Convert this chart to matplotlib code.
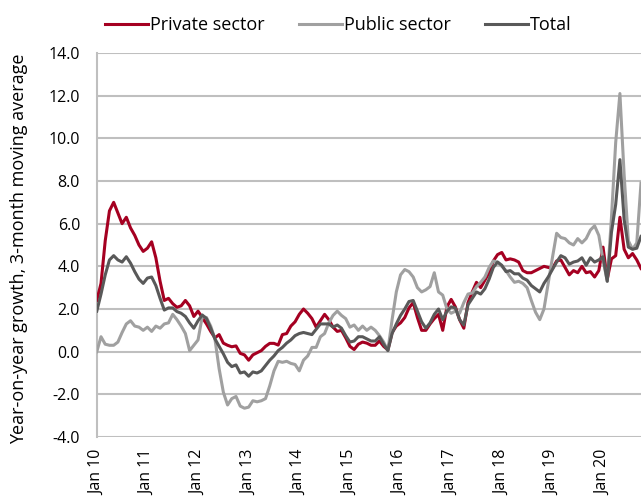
# Year-on-year wage growth, private vs public sector, 3-month moving average

import numpy as np
import matplotlib
matplotlib.use('Agg')
import matplotlib.pyplot as plt

plt.rcParams['font.family'] = ['Open Sans', 'DejaVu Sans']
plt.rcParams['axes.unicode_minus'] = False

# monthly values, Jan 2010 .. Oct 2020
private = [2.4, 3.2, 5.2, 6.6, 7.0, 6.5, 6.0, 6.3, 5.8, 5.45, 5.0, 4.7,
           4.85, 5.15, 4.4, 3.3, 2.4, 2.5, 2.25, 2.08, 2.15, 2.4, 2.15, 1.65,
           1.9, 1.6, 1.3, 0.95, 0.65, 0.8, 0.4, 0.3, 0.23, 0.27, -0.08, -0.15,
           -0.4, -0.15, -0.05, 0.05, 0.25, 0.39, 0.39, 0.31, 0.8, 0.85, 1.2, 1.4,
           1.75, 2.0, 1.8, 1.55, 1.15, 1.45, 1.75, 1.5, 1.15, 0.95, 1.0, 0.65,
           0.25, 0.1, 0.35, 0.45, 0.4, 0.3, 0.3, 0.5, 0.25, 0.08, 0.9, 1.2,
           1.35, 1.6, 2.05, 2.3, 1.6, 1.0, 1.0, 1.3, 1.55, 1.75, 1.0, 2.1,
           2.45, 2.1, 1.5, 1.1, 2.3, 2.8, 3.25, 3.0, 3.35, 3.7, 4.25, 4.55,
           4.65, 4.3, 4.35, 4.3, 4.2, 3.8, 3.7, 3.7, 3.8, 3.9, 4.0, 3.95,
           3.9, 4.25, 4.3, 3.95, 3.6, 3.8, 3.7, 4.0, 3.7, 3.75, 3.5, 3.8,
           4.9, 3.4, 4.35, 4.5, 6.3, 4.8, 4.4, 4.6, 4.3, 3.9]

public = [0.0, 0.7, 0.35, 0.3, 0.3, 0.45, 0.9, 1.3, 1.45, 1.2, 1.15, 1.0,
          1.15, 0.95, 1.2, 1.1, 1.3, 1.35, 1.75, 1.5, 1.2, 0.85, 0.05, 0.3,
          0.55, 1.65, 1.6, 1.2, 0.6, -0.8, -1.9, -2.5, -2.2, -2.1, -2.55, -2.65,
          -2.6, -2.3, -2.35, -2.3, -2.2, -1.6, -0.9, -0.45, -0.5, -0.45, -0.55, -0.6,
          -0.9, -0.4, -0.2, 0.2, 0.2, 0.7, 0.85, 1.35, 1.7, 1.9, 1.7, 1.55,
          1.15, 1.25, 1.0, 1.2, 1.0, 1.15, 1.0, 0.75, 0.45, 0.05, 1.5, 2.8,
          3.6, 3.85, 3.75, 3.5, 3.0, 2.8, 2.9, 3.05, 3.7, 2.8, 2.65, 2.0,
          1.8, 1.9, 1.8, 2.3, 2.7, 2.75, 3.05, 3.25, 3.5, 3.95, 4.25, 4.2,
          4.0, 3.8, 3.5, 3.25, 3.3, 3.2, 3.0, 2.4, 1.85, 1.5, 2.0, 3.2,
          4.4, 5.55, 5.35, 5.3, 5.1, 5.0, 5.3, 5.1, 5.3, 5.7, 5.9, 5.45,
          4.3, 3.3, 6.3, 9.8, 12.1, 8.3, 5.2, 4.8, 5.1, 7.9]

total = [1.9, 2.7, 3.6, 4.3, 4.5, 4.3, 4.2, 4.45, 4.15, 3.75, 3.4, 3.2,
         3.45, 3.5, 3.1, 2.5, 1.95, 2.05, 2.05, 1.88, 1.8, 1.65, 1.35, 1.1,
         1.45, 1.72, 1.55, 1.1, 0.6, 0.25, -0.1, -0.5, -0.7, -0.62, -1.0, -0.95,
         -1.15, -0.95, -1.0, -0.9, -0.65, -0.4, -0.2, 0.05, 0.2, 0.4, 0.55, 0.75,
         0.85, 0.9, 0.85, 0.8, 1.05, 1.3, 1.3, 1.3, 1.15, 1.25, 1.1, 0.75,
         0.45, 0.5, 0.7, 0.7, 0.6, 0.5, 0.5, 0.7, 0.35, 0.05, 0.85, 1.3,
         1.7, 2.0, 2.35, 2.4, 1.9, 1.4, 1.1, 1.35, 1.75, 2.0, 1.5, 1.9,
         2.1, 2.05, 1.5, 1.25, 2.2, 2.5, 2.8, 2.7, 2.95, 3.4, 3.95, 4.2,
         4.05, 3.75, 3.8, 3.65, 3.65, 3.45, 3.35, 3.1, 2.95, 2.8, 3.2, 3.5,
         3.85, 4.2, 4.5, 4.4, 4.1, 4.2, 4.25, 4.4, 4.05, 4.4, 4.2, 4.3,
         4.45, 3.3, 5.6, 6.9, 9.0, 6.2, 4.9, 4.8, 4.85, 5.4]

tick_labels = ['Jan 10', 'Jan 11', 'Jan 12', 'Jan 13', 'Jan 14', 'Jan 15',
               'Jan 16', 'Jan 17', 'Jan 18', 'Jan 19', 'Jan 20']

x = np.arange(len(private))

fig = plt.figure(figsize=(6.41, 4.97), dpi=100)
ax = fig.add_axes([0.151, 0.1207, 0.849, 0.7727])

ax.plot(x, private, color='#A50021', lw=2.2, label='Private sector', zorder=3)
ax.plot(x, public, color='#A0A0A0', lw=2.2, label='Public sector', zorder=3)
ax.plot(x, total, color='#595959', lw=2.2, label='Total', zorder=4)

ax.set_xlim(0, len(x) - 1)
ax.set_ylim(-4, 14)
ax.set_yticks(np.arange(-4, 14.1, 2))
ax.set_yticklabels(['%.1f' % v for v in np.arange(-4, 14.1, 2)])
ax.set_xticks(np.arange(0, len(x), 12))
ax.set_xticklabels(tick_labels, rotation=90)
ax.tick_params(axis='both', length=0, labelsize=11.5, colors='black')
ax.tick_params(axis='y', pad=12)
ax.tick_params(axis='x', pad=9)

ax.grid(axis='y', color='#BFBFBF', lw=1.5)
ax.set_axisbelow(True)
for s in ['top', 'right', 'bottom']:
    ax.spines[s].set_visible(False)
ax.spines['left'].set_color('#BFBFBF')
ax.spines['left'].set_linewidth(1.5)

fig.text(0.03, 0.5, 'Year-on-year growth, 3-month moving average',
         rotation=90, ha='center', va='center', fontsize=13)

fig.legend(loc='center left', bbox_to_anchor=(0.138, 0.95), ncol=3, frameon=False,
           fontsize=13, handlelength=2.4, handletextpad=0.1, columnspacing=1.9)

fig.savefig('out.png', dpi=100)
